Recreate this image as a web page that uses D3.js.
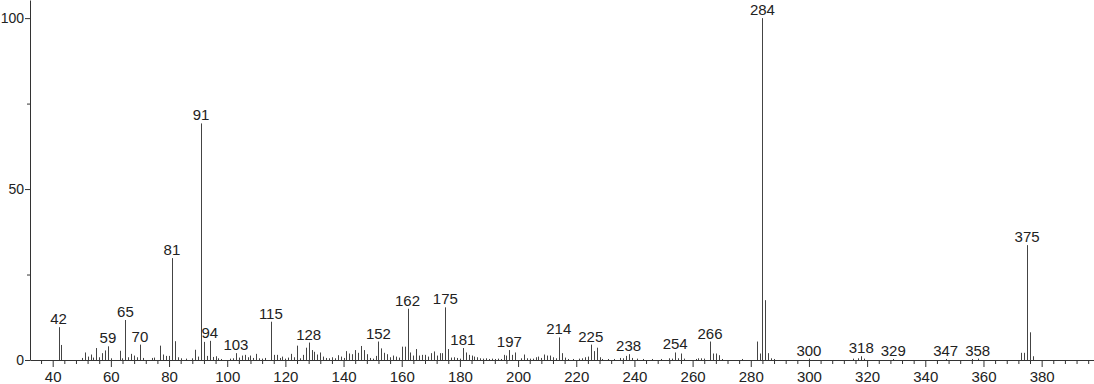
<!DOCTYPE html>
<html>
<head>
<meta charset="utf-8">
<script src="https://cdn.jsdelivr.net/npm/d3@7"></script>
<style>
  html, body { margin: 0; padding: 0; background: #fff; }
  svg { display: block; }
</style>
</head>
<body>
<svg id="main-svg" width="1094" height="384"></svg>
<script>
// m/z values and relative intensities
const mzValues = [42, 43, 50, 51, 52, 53, 54, 55, 56, 57, 58, 59, 60, 63, 64, 65, 66, 67, 68, 69, 70, 71, 74, 75, 77, 78, 79, 80,
  81, 82, 83, 84, 86, 88, 89, 90, 91, 92, 93, 94, 95, 96, 97, 98, 101, 102, 103, 104, 105, 106, 107, 108, 109, 110,
  111, 112, 113, 115, 116, 117, 118, 119, 120, 121, 122, 123, 124, 125, 126, 127, 128, 129, 130, 131, 132, 133, 134,
  135, 136, 137, 138, 139, 140, 141, 142, 143, 144, 145, 146, 147, 148, 149, 150, 151, 152, 153, 154, 155, 156, 157,
  158, 159, 160, 161, 162, 163, 164, 165, 166, 167, 168, 169, 170, 171, 172, 173, 174, 175, 176, 177, 178, 179, 180,
  181, 182, 183, 184, 185, 186, 187, 188, 189, 190, 191, 192, 193, 194, 195, 196, 197, 198, 199, 201, 202, 203, 204,
  205, 206, 207, 208, 209, 210, 211, 212, 213, 214, 215, 216, 217, 219, 221, 222, 223, 224, 225, 226, 227, 228, 229,
  231, 233, 235, 236, 237, 238, 239, 241, 243, 246, 249, 252, 253, 254, 255, 256, 257, 261, 262, 263, 264, 266, 267,
  268, 269, 270, 277, 282, 283, 284, 285, 286, 287, 288, 300, 315, 317, 318, 319, 329, 347, 356, 358, 373, 374, 375,
  376, 377];
const intensities = [9.6, 4.4, 0.6, 2.2, 1.0, 1.6, 0.7, 3.5, 0.8, 2.0, 2.8, 4.0, 0.5, 2.7, 0.5, 11.7, 0.8, 1.8, 1.3, 0.8, 4.5, 0.6, 0.6, 0.7, 4.2, 1.6, 1.2, 1.2,
  29.8, 5.5, 0.8, 0.5, 0.4, 0.5, 3.0, 1.0, 69.2, 5.3, 1.2, 5.6, 0.9, 1.1, 0.5, 0.3, 0.4, 0.5, 2.0, 0.7, 1.3, 1.5, 0.8, 1.3, 0.6, 1.8,
  0.5, 0.4, 0.6, 11.2, 1.5, 1.5, 0.6, 1.0, 0.4, 0.7, 1.8, 0.8, 4.2, 0.5, 1.5, 3.6, 5.1, 2.9, 2.4, 1.6, 2.2, 1.0, 0.6,
  0.5, 0.8, 0.5, 1.4, 1.0, 0.6, 2.6, 1.9, 1.7, 2.9, 2.1, 4.1, 2.9, 1.7, 0.6, 0.4, 1.2, 5.4, 3.4, 2.1, 1.7, 0.8, 1.3,
  1.0, 0.7, 3.9, 3.9, 15.0, 2.2, 1.3, 3.2, 1.3, 1.5, 1.5, 1.0, 2.0, 2.5, 1.3, 2.0, 2.0, 15.4, 3.2, 0.7, 0.8, 0.6, 0.4,
  3.5, 2.2, 1.5, 1.3, 1.0, 0.8, 0.5, 0.4, 0.5, 0.3, 0.4, 0.3, 0.4, 0.3, 1.5, 1.3, 2.9, 1.5, 2.2, 0.5, 1.6, 0.5, 0.4,
  0.4, 0.8, 1.0, 0.6, 1.6, 1.3, 1.3, 0.8, 0.5, 6.6, 2.0, 0.7, 0.3, 0.3, 0.4, 0.5, 0.8, 1.0, 4.5, 2.6, 3.6, 0.8, 0.3,
  0.3, 0.3, 0.6, 0.5, 1.2, 1.7, 0.6, 0.4, 0.3, 0.3, 0.3, 0.5, 0.4, 2.2, 0.5, 1.9, 0.4, 0.3, 0.5, 0.5, 0.4, 5.4, 1.9,
  1.9, 1.4, 0.3, 0.3, 5.4, 1.9, 100, 17.5, 2.0, 0.5, 0.3, 0.4, 0.4, 0.5, 1.1, 0.4, 0.3, 0.3, 0.3, 0.4, 2.1, 2.1, 33.6,
  8.1, 1.1];

// peaks that carry an m/z label
const labeledPeaks = [42, 59, 65, 70, 81, 91, 94, 103, 115, 128, 152, 162, 175, 181, 197, 214, 225, 238, 254, 266,
  284, 300, 318, 329, 347, 358, 375];

const xMajorTicks = d3.range(40, 381, 20);
const xMinorTicks = d3.range(36, 398, 4).filter(v => v % 20 !== 0);
const yMajorTicks = [0, 50, 100];
const yMinorTicks = [25, 75];

const peaks = mzValues.map((mz, i) => ({ mz: mz, value: intensities[i] }));
const labelSet = new Set(labeledPeaks);

const svg = d3.select("#main-svg");
const font = "'Liberation Sans', Arial, Helvetica, sans-serif";
const ink = "#333";

const x = d3.scaleLinear().domain([32.2, 398]).range([30, 1094]);
const y = d3.scaleLinear().domain([0, 105.3]).range([360, 0]);

// peaks as sticks
svg.append("g")
  .selectAll("line")
  .data(peaks)
  .enter()
  .append("line")
  .attr("x1", d => Math.round(x(d.mz)) + 0.5)
  .attr("x2", d => Math.round(x(d.mz)) + 0.5)
  .attr("y1", y(0))
  .attr("y2", d => y(d.value))
  .attr("stroke", "#444")
  .attr("stroke-width", 1);

// x axis (minor ticks first, then labelled major ticks)
svg.append("g")
  .attr("transform", `translate(0,${y(0)})`)
  .call(d3.axisBottom(x).tickValues(xMinorTicks).tickSize(4).tickSizeOuter(0).tickFormat(""))
  .call(g => g.select(".domain").remove());

svg.append("g")
  .attr("class", "x-axis")
  .attr("transform", `translate(0,${y(0)})`)
  .call(d3.axisBottom(x).tickValues(xMajorTicks).tickSize(7).tickSizeOuter(0).tickPadding(4));

// y axis
svg.append("g")
  .attr("transform", `translate(${x.range()[0]},0)`)
  .call(d3.axisLeft(y).tickValues(yMinorTicks).tickSize(3).tickFormat(""))
  .call(g => g.select(".domain").remove());

svg.append("g")
  .attr("class", "y-axis")
  .attr("transform", `translate(${x.range()[0]},0)`)
  .call(d3.axisLeft(y).tickValues(yMajorTicks).tickSize(5).tickSizeOuter(0).tickPadding(1));

svg.selectAll(".tick line, .domain").attr("stroke", ink);
svg.selectAll(".x-axis .tick text")
  .attr("font-family", font)
  .attr("font-size", "15px")
  .attr("fill", "#222");
svg.selectAll(".y-axis .tick text")
  .attr("font-family", font)
  .attr("font-size", "14px")
  .attr("fill", "#222");

// peak labels
svg.append("g")
  .selectAll("text")
  .data(peaks.filter(d => labelSet.has(d.mz)))
  .enter()
  .append("text")
  .attr("x", d => x(d.mz))
  .attr("y", d => y(d.value) - 3)
  .attr("text-anchor", "middle")
  .attr("font-family", font)
  .attr("font-size", "15px")
  .attr("fill", "#222")
  .text(d => d.mz);
</script>
</body>
</html>
